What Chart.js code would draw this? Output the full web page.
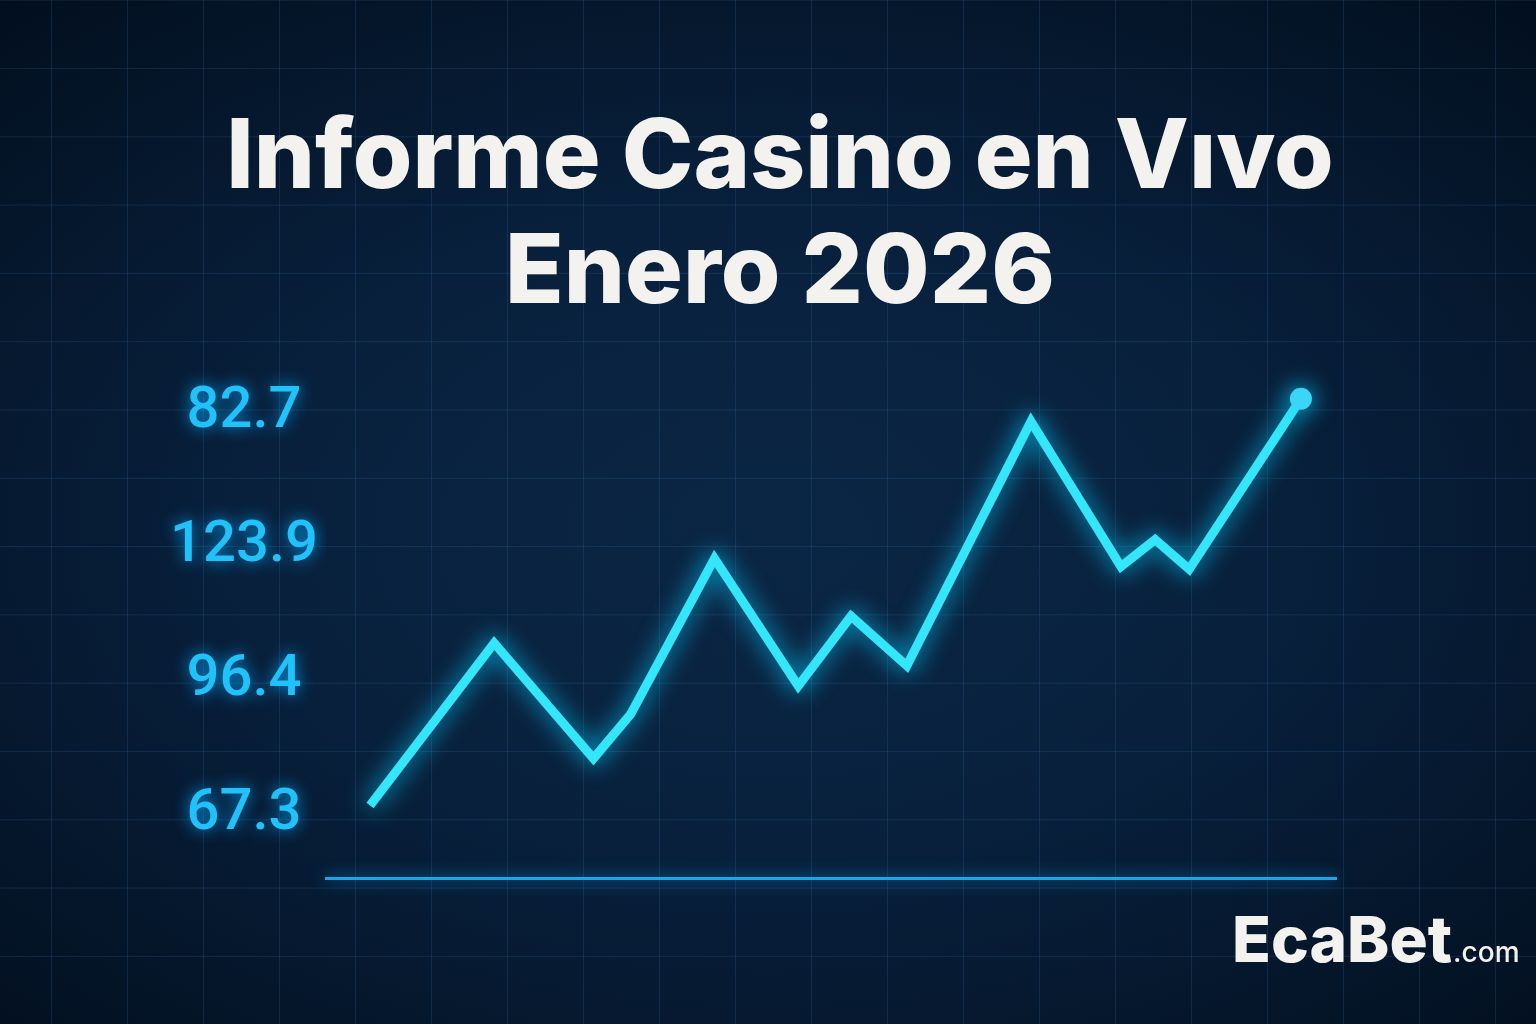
<!DOCTYPE html>
<html>
<head>
<meta charset="utf-8">
<script src="https://cdn.jsdelivr.net/npm/chart.js@4.4.1/dist/chart.umd.min.js"></script>
<style>
  html, body { margin: 0; padding: 0; width: 1536px; height: 1024px; overflow: hidden; }
  body {
    background:
      linear-gradient(to right, rgba(60,130,200,0.18) 1px, transparent 1px) 51px 0 / 76px 100%,
      linear-gradient(to bottom, rgba(60,130,200,0.18) 1px, transparent 1px) 0 68px / 100% 68.3px,
      radial-gradient(ellipse 75% 70% at 50% 52%, #0b2645 0%, #08203c 45%, #041427 85%, #020e1e 100%);
  }
  canvas { display: block; }
</style>
</head>
<body>
<canvas id="c" width="1536" height="1024"></canvas>
<script>
// ---- data ----
const dias      = [1.0, 5.0, 8.2, 9.4, 12.1, 14.8, 16.5, 18.3, 22.3, 25.2, 26.3, 27.4, 31.0];
const niveles   = [1.07, 2.28, 1.42, 1.75, 2.91, 1.96, 2.48, 2.11, 3.93, 2.85, 3.05, 2.83, 4.10];
const nivelesTicks = [1, 2, 3, 4];
const etiquetasY   = ['67.3', '96.4', '123.9', '82.7'];
const titulo    = ['Informe Casino en V\u0131vo', 'Enero 2026'];
const marca     = 'EcaBet';
const dominio   = '.com';

const puntos = dias.map((d, i) => ({ x: d, y: niveles[i] }));
const radios = niveles.map((_, i) => i === niveles.length - 1 ? 11 : 0);

const glowPlugin = {
  id: 'glow',
  beforeDraw(chart) {
    const c = chart.ctx;
    c.save();
    c.shadowColor = 'rgba(0,170,255,0.9)';
    c.shadowBlur = 16;
  },
  beforeDatasetsDraw(chart) {
    const c = chart.ctx;
    c.restore();
    c.save();
    c.shadowColor = 'rgba(0,205,255,1)';
    c.shadowBlur = 24;
  },
  afterDatasetsDraw(chart) {
    chart.ctx.restore();
  }
};

const textPlugin = {
  id: 'texts',
  afterDraw(chart) {
    const c = chart.ctx;
    c.save();
    c.fillStyle = '#f4f2ee';
    c.textAlign = 'center';
    c.textBaseline = 'alphabetic';
    c.font = '800 100px Inter';
    const w = c.measureText(titulo[0]).width;
    const size = 100 * 1107 / w;
    c.font = '800 ' + size.toFixed(1) + 'px Inter';
    c.fillText(titulo[0], 780, 188);
    c.fillText(titulo[1], 780, 303);

    c.textAlign = 'left';
    c.font = '800 100px Inter';
    const s2 = 100 * 220 / c.measureText(marca).width;
    c.font = '800 ' + s2.toFixed(1) + 'px Inter';
    c.fillText(marca, 1232, 962);
    const mw = c.measureText(marca).width;
    c.font = '500 28px Inter';
    c.fillText(dominio, 1232 + mw + 1, 962);
    c.restore();
  }
};

new Chart(document.getElementById('c'), {
  type: 'line',
  data: {
    datasets: [{
      data: puntos,
      borderColor: '#33e6fa',
      borderWidth: 9,
      borderJoinStyle: 'miter',
      borderCapStyle: 'butt',
      tension: 0,
      fill: false,
      pointRadius: radios,
      pointHoverRadius: radios,
      pointBackgroundColor: '#3ad6f6',
      pointBorderWidth: 0
    }]
  },
  options: {
    responsive: false,
    devicePixelRatio: 1,
    animation: false,
    events: [],
    layout: { padding: { left: 160, right: 200, top: 345, bottom: 146 } },
    plugins: { legend: { display: false }, tooltip: { enabled: false }, title: { display: false } },
    scales: {
      x: {
        type: 'linear',
        min: -0.42,
        max: 32.13,
        ticks: { display: false },
        grid: { display: false, drawTicks: false },
        border: { display: true, color: '#1aa6ea', width: 3 },
        afterFit(s) { s.height = 0; }
      },
      y: {
        type: 'linear',
        min: 0.53,
        max: 4.5,
        afterBuildTicks(s) { s.ticks = nivelesTicks.map(v => ({ value: v })); },
        ticks: {
          callback: (v) => etiquetasY[nivelesTicks.indexOf(v)],
          color: '#20c2fa',
          font: { family: 'Roboto', size: 58, weight: '500' },
          crossAlign: 'center',
          padding: 8
        },
        grid: { display: false, drawTicks: false },
        border: { display: false },
        afterFit(s) { s.width = 166; }
      }
    }
  },
  plugins: [glowPlugin, textPlugin]
});
</script>
</body>
</html>
